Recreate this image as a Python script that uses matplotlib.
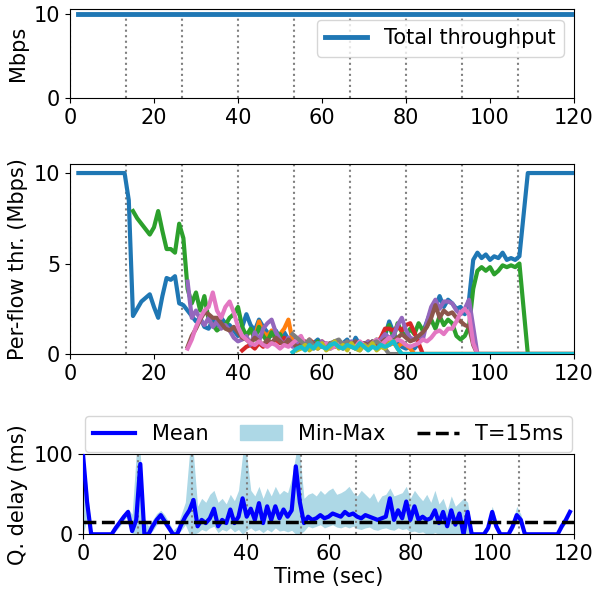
import numpy as np
import matplotlib
matplotlib.use("Agg")
import matplotlib.pyplot as plt
from matplotlib.patches import Patch
from matplotlib.lines import Line2D

plt.rcParams["font.size"] = 15

DURATION = 120
EVENT_STEP = DURATION / 9          # flows join / leave every 13.3 s
DELAY_TARGET = 15

# aggregate throughput (Mbps), sampled every second from t=2
total_start = 2
total_thr = [10.0] * (DURATION - total_start + 1)

# per-flow throughput (Mbps), one sample per second from each flow's start
flow_start = [2, 42, 15, 41, 28, 28, 28, 53, 54, 53]

flow_0 = [10, 10, 10, 10, 10, 10, 10, 10, 10, 10, 10, 10, 8.5,
          2.1, 2.5, 2.9, 3.1, 3.3, 2.6, 2.0, 3.2, 4.2, 4.1, 4.3, 2.8, 2.7,
          2.4, 2.1, 1.8, 2.0, 1.5, 1.4, 1.9, 1.6, 2.0, 1.7, 1.6, 1.3, 1.0,
          1.5, 2.2, 1.6, 1.3, 1.9, 1.5, 1.2, 1.0, 1.3, 0.9, 1.2, 0.8, 0.9,
          0.6, 0.8, 0.5, 0.7, 0.6, 0.8, 0.5, 0.6, 0.4, 0.7, 0.5, 0.6, 0.8,
          0.4, 0.9, 0.5, 0.6, 0.4, 0.7, 0.5, 0.8, 1.0, 1.8, 1.2, 0.6, 0.4,
          0.3, 0.4, 0.3, 0.6, 1.2, 1.8, 2.4, 2.6, 3.2, 2.6, 3.0, 2.8, 2.5,
          2.6, 2.2, 3.0, 5.2, 5.6, 5.3, 5.5, 5.2, 5.4, 5.3, 5.6, 5.2, 5.3,
          5.2, 5.4, 7.7, 10, 10, 10, 10, 10, 10, 10, 10, 10, 10, 10, 10]
flow_1 = [1.0, 1.3, 0.9, 1.8, 1.2, 1.0, 1.3, 0.8, 1.1, 1.4, 1.9, 0.7,
          0.5, 0.4, 0.6, 0.3, 0.5, 0.4, 0.6, 0.3, 0.5, 0.4, 0.6, 0.5, 0.3,
          0.5, 0.4, 0.6, 0.5, 0.7, 0.4, 0.6, 0.5, 0.7, 0.5, 0.6, 0.4, 0.6,
          0.5, 0.3, 0.0]
flow_2 = [7.9, 7.5, 7.2, 6.9, 6.6, 7.0, 7.9, 6.8, 5.8, 5.8, 5.6, 7.2, 6.4,
          3.6, 2.8, 3.4, 2.4, 3.2, 1.9, 1.6, 1.3, 1.5, 1.6, 2.0, 2.2, 2.6,
          1.5, 1.0, 1.4, 0.8, 1.5, 1.0, 0.7, 1.2, 0.9, 1.1, 0.6, 0.8, 0.5,
          0.6, 0.4, 0.6, 0.3, 0.5, 0.7, 0.4, 0.5, 0.3, 0.6, 0.4, 0.5, 0.4,
          0.6, 0.3, 0.5, 0.4, 0.6, 0.5, 0.8, 0.6, 1.2, 1.6, 0.9, 1.7, 1.2,
          1.0, 1.4, 1.1, 1.7, 1.3, 1.6, 1.9, 1.4, 2.1, 1.6, 1.9, 1.7, 1.0,
          0.8, 1.0, 1.5, 3.6, 4.6, 4.8, 4.6, 4.8, 4.4, 4.6, 4.9, 4.8, 4.9,
          4.8, 5.0, 2.5, 0.0]
flow_3 = [0.2, 0.4, 0.5, 0.3, 0.6, 0.4, 0.7, 0.6, 0.8, 0.6, 0.9, 0.5,
          0.6, 0.4, 0.7, 0.5, 0.8, 0.6, 0.4, 0.7, 0.5, 0.6, 0.4, 0.5, 0.3,
          0.5, 0.4, 0.6, 0.5, 0.4, 0.6, 0.5, 0.6, 0.9, 1.4, 1.4, 1.3, 1.5,
          1.3, 1.6, 1.7, 1.2, 0.6, 0.0]
flow_4 = [4.0, 2.0, 2.4, 1.9, 1.6, 2.0, 1.5, 1.8, 1.4, 1.6, 1.3, 0.9,
          0.7, 0.8, 1.0, 0.5, 1.2, 0.7, 1.4, 1.7, 1.9, 1.2, 0.8, 0.5, 0.9,
          0.4, 0.6, 0.9, 0.5, 0.4, 0.6, 0.5, 0.7, 0.4, 0.6, 0.5, 0.4, 0.6,
          0.5, 0.7, 0.4, 0.6, 0.5, 0.7, 0.5, 0.6, 0.8, 1.1, 0.9, 1.0, 1.6,
          2.0, 1.3, 0.9, 0.8, 1.0, 0.8, 1.8, 2.6, 3.0, 2.5, 2.9, 2.9, 2.8,
          2.4, 2.2, 2.5, 3.0, 1.5, 0.0]
flow_5 = [0.4, 1.0, 1.4, 1.9, 2.3, 2.2, 2.0, 2.0, 1.7, 1.4, 1.3, 1.5,
          1.2, 0.9, 0.8, 0.6, 0.9, 0.7, 0.5, 0.8, 0.6, 0.9, 0.7, 0.5, 0.8,
          0.6, 0.4, 0.5, 0.7, 0.4, 0.6, 0.3, 0.5, 0.4, 0.6, 0.5, 0.7, 0.4,
          0.6, 0.5, 0.7, 0.4, 0.6, 0.5, 0.7, 0.5, 0.6, 0.8, 0.6, 0.7, 0.9,
          1.1, 0.9, 0.7, 0.8, 1.0, 1.2, 1.5, 2.0, 2.7, 2.0, 2.4, 2.2, 2.3,
          2.0, 1.8, 1.6, 1.5, 0.5, 0.0]
flow_6 = [0.3, 0.8, 1.5, 2.0, 2.4, 2.6, 3.4, 2.4, 2.0, 2.6, 2.9, 2.3,
          1.5, 1.0, 0.8, 0.6, 0.5, 0.7, 0.5, 0.4, 0.6, 0.5, 0.3, 0.5, 0.4,
          0.6, 0.8, 1.0, 0.5, 0.4, 0.3, 0.5, 0.4, 0.6, 0.3, 0.4, 0.6, 0.5,
          0.3, 0.5, 0.4, 0.7, 0.5, 0.4, 0.6, 0.8, 0.5, 0.7, 0.9, 0.6, 0.8,
          0.7, 0.5, 0.4, 0.5, 0.6, 0.8, 0.7, 0.9, 1.2, 1.3, 1.1, 1.4, 1.4,
          1.8, 2.3, 2.5, 2.2, 0.6, 0.0]
flow_7 = [1.1, 0.9, 0.7, 0.5, 0.8, 0.4, 0.6, 0.5, 0.3, 0.6, 0.7, 0.8,
          0.5, 0.7, 0.4, 0.3, 0.2, 0.5, 0.4, 0.6, 0.7, 0.5, 0.3, 0.0]
flow_8 = [0.2, 0.3, 0.5, 0.2, 0.4, 0.3, 0.6, 0.2, 0.4, 0.7, 0.3, 0.5,
          0.2, 0.6, 0.3, 0.2, 0.5, 0.3, 0.6, 0.2, 0.4, 0.3, 0.6, 0.7, 0.3,
          0.0]
flow_9 = [0.1, 0.3, 0.4, 0.2, 0.5, 0.3, 0.6, 0.4, 0.3, 0.5, 0.6, 0.4,
          0.3, 0.5, 0.4, 0.3, 0.6, 0.4, 0.2, 0.4, 0.3, 0.5, 0.4, 0.5, 0.7,
          0.3, 0.0]

# queueing delay (ms) across flows, one sample per second from t=0
delay_mean = [100, 40, 0, 0, 0, 0, 0, 0, 8, 15, 22, 28, 4, 18, 88, 0, 0, 10,
              18, 24, 16, 8, 0, 0, 12, 22, 30, 43, 10, 18, 14, 20, 32, 10, 18,
              14, 31, 14, 22, 45, 22, 32, 18, 39, 14, 35, 18, 35, 20, 31, 22,
              30, 85, 40, 14, 22, 18, 20, 24, 20, 22, 26, 24, 22, 28, 24, 26,
              22, 20, 24, 22, 20, 18, 20, 22, 45, 18, 30, 20, 41, 18, 35, 18,
              22, 18, 20, 30, 14, 28, 10, 30, 12, 26, 0, 28, 0, 0, 0, 0, 8,
              28, 10, 0, 0, 0, 10, 24, 18, 0, 0, 0, 0, 0, 0, 0, 0, 0, 10, 18,
              28]
delay_min = [0, 20, 0, 0, 0, 0, 0, 0, 4, 10, 18, 22, 0, 0, 0, 0, 0, 4,
             12, 18, 10, 4, 0, 0, 5, 12, 0, 0, 2, 6, 4, 8, 10, 2, 6, 4, 8,
             3, 6, 0, 5, 8, 4, 6, 2, 6, 3, 8, 4, 5, 3, 5, 0, 0, 4, 10, 8,
             10, 12, 8, 10, 12, 9, 8, 10, 8, 10, 7, 6, 8, 9, 6, 5, 7, 8, 6,
             5, 8, 6, 7, 3, 4, 2, 3, 0, 0, 2, 0, 0, 0, 0, 0, 0, 0, 0, 0, 0,
             0, 0, 4, 20, 6, 0, 0, 0, 5, 16, 12, 0, 0, 0, 0, 0, 0, 0, 0, 0,
             6, 14, 25]
delay_max = [100, 60, 5, 0, 0, 0, 0, 0, 12, 20, 26, 32, 25, 100, 100, 20,
             10, 18, 26, 30, 24, 15, 5, 10, 25, 40, 100, 100, 35, 45, 40, 50,
             55, 40, 45, 38, 50, 42, 55, 100, 100, 55, 48, 60, 45, 58, 48, 60,
             50, 55, 52, 70, 100, 100, 45, 50, 52, 48, 55, 50, 55, 58, 50, 52,
             55, 60, 52, 48, 55, 50, 45, 52, 40, 48, 50, 58, 48, 50, 52, 60,
             45, 55, 48, 42, 50, 40, 55, 38, 45, 30, 48, 35, 40, 45, 40, 5,
             0, 0, 0, 15, 35, 18, 0, 0, 0, 15, 35, 25, 5, 0, 0, 0, 0, 0, 0,
             0, 0, 12, 22, 30]

flows = [flow_0, flow_1, flow_2, flow_3, flow_4,
         flow_5, flow_6, flow_7, flow_8, flow_9]
events = np.arange(9) * EVENT_STEP

fig = plt.figure(figsize=(5.93, 5.92), dpi=100)
ax_tot = fig.add_axes([0.118, 0.834, 0.850, 0.150])
ax_flow = fig.add_axes([0.118, 0.402, 0.850, 0.321])
ax_q = fig.add_axes([0.140, 0.0975, 0.828, 0.135])


def mark_events(ax, z=1):
    for x in events:
        ax.axvline(x, color="gray", ls=":", lw=1.5, zorder=z)


# total throughput
t_tot = np.arange(total_start, total_start + len(total_thr))
mark_events(ax_tot)
ax_tot.plot(t_tot, total_thr, color="tab:blue", lw=3.5, label="Total throughput",
            zorder=3)
ax_tot.set_xlim(0, DURATION)
ax_tot.set_ylim(0, 10.5)
ax_tot.set_yticks([0, 10])
ax_tot.set_ylabel("Mbps")
ax_tot.legend(loc="upper right", fontsize=15, handlelength=2.0)

# per-flow throughput, flows stay at zero after they leave
mark_events(ax_flow)
for start, vals in zip(flow_start, flows):
    t = np.arange(start, start + len(vals))
    t_idle = np.arange(t[-1] + 1, DURATION + 1)
    ax_flow.plot(np.concatenate([t, t_idle]),
                 np.concatenate([vals, np.zeros(len(t_idle))]),
                 lw=3, zorder=3)
ax_flow.set_xlim(0, DURATION)
ax_flow.set_ylim(0, 10.5)
ax_flow.set_yticks([0, 5, 10])
ax_flow.set_ylabel("Per-flow thr. (Mbps)")

# queueing delay
t_q = np.arange(len(delay_mean))
ax_q.fill_between(t_q, delay_min, delay_max, color="lightblue", lw=0, zorder=1)
mark_events(ax_q, z=2)
ax_q.plot(t_q, delay_mean, color="blue", lw=3, zorder=3)
ax_q.axhline(DELAY_TARGET, color="black", ls="--", lw=2.5, zorder=4)
ax_q.set_xlim(0, DURATION)
ax_q.set_ylim(0, 100)
ax_q.set_yticks([0, 100])
ax_q.set_ylabel("Q. delay (ms)")
ax_q.set_xlabel("Time (sec)", labelpad=2)

handles = [Line2D([], [], color="blue", lw=3),
           Patch(color="lightblue"),
           Line2D([], [], color="black", ls="--", lw=2.5)]
ax_q.legend(handles, ["Mean", "Min-Max", "T=15ms"], ncol=3, mode="expand",
            loc="lower left", bbox_to_anchor=(0, 1.0, 1, 0.3),
            borderaxespad=0.1, fontsize=15, handlelength=2.0)

fig.savefig("out.png", dpi=100)
